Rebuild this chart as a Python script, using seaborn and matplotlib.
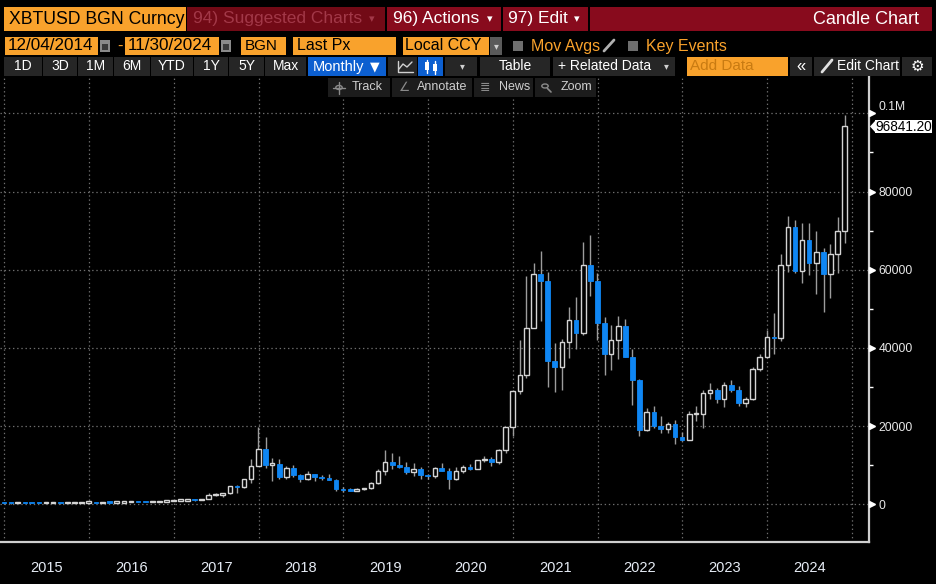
import matplotlib
matplotlib.use("Agg")
import numpy as np
import pandas as pd
import matplotlib.pyplot as plt
import matplotlib.transforms as mtransforms
from matplotlib.patches import Rectangle, Polygon, Circle
from matplotlib.lines import Line2D
import seaborn as sns

# monthly candles, plotted at month end (Dec 2014 .. Nov 2024)
months = pd.date_range("2014-12-31", periods=120, freq="ME")

open_px = [378,
    320, 217, 254, 244, 236, 230, 263, 284, 230, 236, 314, 377,
    430, 369, 437, 416, 448, 531, 673, 624, 575, 608, 700, 742,
    964, 970, 1190, 1080, 1350, 2300, 2480, 2875, 4700, 4340, 6440, 9900,
    14100, 10100, 10350, 6900, 9250, 7500, 6390, 7730, 7000, 6620, 6310, 4000,
    3690, 3440, 3820, 4100, 5350, 8570, 10800, 10090, 9600, 8300, 9150, 7550,
    7200, 9350, 8540, 6410, 8630, 9450, 9140, 11350, 11650, 10780, 13800, 19700,
    28990, 33100, 45200, 58800, 57000, 36700, 35000, 41500, 47100, 43800, 61300, 57000,
    46300, 38500, 42000, 45600, 37700, 31700, 18900, 23700, 20000, 19300, 20500, 17100,
    16500, 23100, 23200, 28400, 29300, 27000, 30500, 29200, 25900, 26900, 34500, 37800,
    42700, 42500, 61300, 71000, 59800, 67700, 61800, 64600, 59000, 63900, 70000]

high_px = [380,
    320, 265, 300, 262, 248, 268, 317, 285, 245, 335, 495, 465,
    460, 445, 440, 467, 550, 780, 705, 630, 625, 720, 755, 975,
    1150, 1215, 1290, 1380, 2800, 3000, 2920, 4750, 5000, 6470, 11500, 19700,
    17200, 11800, 11700, 9800, 10000, 7800, 8500, 7760, 7400, 7680, 6560, 4400,
    4100, 4200, 4150, 5650, 9100, 13850, 13200, 12350, 10950, 10500, 9520, 7750,
    9600, 10500, 9200, 9450, 10070, 10400, 11450, 12480, 12080, 14100, 19850, 29300,
    41950, 58350, 61780, 64900, 59500, 41300, 42300, 50500, 52900, 67000, 69000, 59100,
    47900, 45800, 48200, 47400, 39800, 32000, 24600, 25200, 22700, 21000, 21500, 18400,
    23950, 25250, 29200, 31000, 29850, 31400, 31800, 30200, 27500, 35200, 38400, 44700,
    49000, 64000, 73800, 72700, 72000, 72000, 70000, 65600, 66600, 73600, 99600]

low_px = [300,
    170, 212, 240, 215, 228, 220, 253, 198, 225, 235, 300, 350,
    360, 366, 400, 414, 438, 520, 605, 475, 570, 605, 690, 740,
    750, 940, 890, 1060, 1350, 2100, 1830, 2650, 2950, 4120, 5500, 9800,
    9200, 6000, 6600, 6450, 7050, 5750, 6100, 5880, 6100, 6200, 3500, 3150,
    3350, 3400, 3670, 4040, 5300, 7450, 9050, 9350, 7800, 7300, 6500, 6430,
    6850, 8500, 3850, 6150, 8110, 8900, 8970, 10950, 9880, 10400, 13200, 17600,
    28130, 32300, 45000, 47000, 30000, 28800, 29300, 37300, 39600, 43300, 53300, 42000,
    33000, 34300, 37200, 37600, 25400, 17600, 18800, 19600, 18200, 18200, 15500, 16300,
    16500, 21400, 19600, 27000, 25800, 24800, 28850, 25250, 24900, 26600, 34100, 37600,
    38500, 41900, 59300, 59200, 56700, 58600, 53800, 49300, 52800, 59100, 66800]

close_px = [320,
    217, 254, 244, 236, 230, 263, 284, 230, 236, 314, 377, 430,
    369, 437, 416, 448, 531, 673, 624, 575, 608, 700, 742, 964,
    970, 1190, 1080, 1350, 2300, 2480, 2875, 4700, 4340, 6440, 9900, 14100,
    10100, 10350, 6900, 9250, 7500, 6390, 7730, 7000, 6620, 6310, 4000, 3690,
    3440, 3820, 4100, 5350, 8570, 10800, 10090, 9600, 8300, 9150, 7550, 7200,
    9350, 8540, 6410, 8630, 9450, 9140, 11350, 11650, 10780, 13800, 19700, 28990,
    33100, 45200, 58800, 57000, 36700, 35000, 41500, 47100, 43800, 61300, 57000, 46300,
    38500, 42000, 45600, 37700, 31700, 18900, 23700, 20000, 19300, 20500, 17100, 16500,
    23100, 23200, 28400, 29300, 27000, 30500, 29200, 25900, 26900, 34500, 37800, 42700,
    42500, 61300, 71000, 59800, 67700, 61800, 64600, 59000, 63900, 70000, 96841.20]

y_ticks = [0, 20000, 40000, 60000, 80000, 100000]
y_labels = ["0", "20000", "40000", "60000", "80000", "0.1M"]
years = list(range(2015, 2025))
last_label = "96841.20"

df = pd.DataFrame({"date": months, "open": open_px, "high": high_px,
                   "low": low_px, "close": close_px})
df["up"] = df["close"] >= df["open"]
df["body_lo"] = df[["open", "close"]].min(axis=1)
df["body_h"] = (df["close"] - df["open"]).abs().clip(lower=350)

ORANGE = "#f9a22c"
RED = "#880b1d"
BLUE = "#0f86f3"
BTN = "#262626"

sns.set_theme(style="dark", rc={"figure.facecolor": "black", "axes.facecolor": "black",
                                "axes.grid": False, "savefig.facecolor": "black"})
plt.rcParams["font.family"] = ["Liberation Sans", "DejaVu Sans"]
plt.rcParams["lines.scale_dashes"] = False

W, H = 936, 584
fig = plt.figure(figsize=(W / 100, H / 100), dpi=100)
ax = fig.add_axes([0, 42 / H, 869 / W, 465 / H])
ax.set_xlim(pd.Timestamp("2014-12-14"), pd.Timestamp("2025-03-15"))
ax.set_ylim(-9640, 109300)

# grid
for yv in y_ticks:
    ax.axhline(yv, color="#6e6e6e", lw=0.9, ls=(0, (1, 2)), zorder=1)
for yr in range(2015, 2026):
    ax.axvline(pd.Timestamp(f"{yr}-01-01"), color="#6e6e6e", lw=0.9, ls=(0, (1, 2)), zorder=1)

# candles
ax.vlines(df["date"], df["low"], df["high"], color="#9c9c9c", lw=1, zorder=2)
up = df[df["up"]]
dn = df[~df["up"]]
ax.bar(up["date"], up["body_h"], bottom=up["body_lo"], width=20,
       facecolor="black", edgecolor="#d4d4d4", linewidth=1, zorder=3)
ax.bar(dn["date"], dn["body_h"], bottom=dn["body_lo"], width=20,
       facecolor=BLUE, edgecolor=BLUE, linewidth=0.6, zorder=3)

# axes styling
for s in ["top", "left"]:
    ax.spines[s].set_visible(False)
for s in ["right", "bottom"]:
    ax.spines[s].set_color("#cfcfcf")
    ax.spines[s].set_linewidth(1.6)

ax.yaxis.tick_right()
ax.set_yticks(y_ticks)
ax.set_yticklabels(y_labels)
ax.set_yticks(range(10000, 100000, 20000), minor=True)
ax.tick_params(axis="y", which="major", length=0, pad=7, labelsize=8.7, labelcolor="#e8e8e8")
ax.tick_params(axis="y", which="minor", length=3, width=1, color="white", direction="out")
ax.get_yticklabels()[-1].set_va("bottom")
trans = mtransforms.blended_transform_factory(ax.transAxes, ax.transData)
ax.plot([1.004] * len(y_ticks), y_ticks, marker=">", ms=5, color="white", ls="none",
        transform=trans, clip_on=False, zorder=5)

ax.set_xticks([pd.Timestamp(f"{y}-01-01") for y in range(2016, 2026)])
ax.set_xticks([pd.Timestamp(f"{y}-{m:02d}-01") for y in years for m in (4, 7, 10)]
              + [pd.Timestamp("2015-01-01")], minor=True)
ax.tick_params(axis="x", which="major", length=27, width=1.2, color="#8c8c8c",
               direction="out", labelbottom=False)
ax.tick_params(axis="x", which="minor", length=3, width=1, color="#d0d0d0",
               direction="out", labelbottom=False)
xtrans = mtransforms.blended_transform_factory(ax.transData, ax.transAxes)
for yr in years:
    ax.text(pd.Timestamp(f"{yr}-07-02"), -0.056, str(yr), transform=xtrans,
            ha="center", va="center", fontsize=10.5, color="#e6ecf5",
            family=["Liberation Sans Narrow", "Liberation Sans", "DejaVu Sans"])


# ---- header widgets, in pixel coordinates ----
def box(x0, y0, x1, y1, color, z=6):
    fig.add_artist(Rectangle((x0 / W, 1 - y1 / H), (x1 - x0) / W, (y1 - y0) / H,
                             transform=fig.transFigure, facecolor=color,
                             edgecolor="none", zorder=z))


def txt(x, y, s, color="white", size=10, ha="left", **kw):
    fig.text(x / W, 1 - y / H, s, color=color, fontsize=size, ha=ha, va="center",
             zorder=8, **kw)


def line(xs, ys, color="white", lw=1):
    fig.add_artist(Line2D([x / W for x in xs], [1 - y / H for y in ys],
                          transform=fig.transFigure, color=color, lw=lw, zorder=8))


def calendar(x0):
    box(x0, 40, x0 + 10, 52, "#8a8a8a", z=7)
    box(x0 + 2, 44, x0 + 8, 50, "#3a3a3a", z=7)


# row 1
box(4, 7, 186, 31, ORANGE)
txt(9, 19, "XBTUSD BGN Curncy", "black", 12.7)
box(187, 7, 385, 31, "#720a16")
txt(193, 19, "94) Suggested Charts", "#a23848", 12.5)
txt(372, 19.5, "▾", "#a23848", 8, ha="center", family="DejaVu Sans")
box(387, 7, 501, 31, RED)
txt(393, 19, "96) Actions", "white", 12.5)
txt(490, 19.5, "▾", "white", 8, ha="center", family="DejaVu Sans")
box(503, 7, 588, 31, RED)
txt(508, 19, "97) Edit", "white", 12.5)
txt(577, 19.5, "▾", "white", 8, ha="center", family="DejaVu Sans")
box(590, 7, 932, 31, RED)
txt(919, 19, "Candle Chart", "white", 13, ha="right")

# row 2
box(5, 37, 98, 55, ORANGE)
txt(8, 46, "12/04/2014", "black", 12.3)
calendar(100)
txt(117, 46, "-", ORANGE, 12)
box(125, 37, 219, 55, ORANGE)
txt(128, 46, "11/30/2024", "black", 12.3)
calendar(221)
box(241, 37, 286, 55, ORANGE)
txt(245, 46, "BGN", "black", 11)
box(293, 37, 396, 55, ORANGE)
txt(297, 46, "Last Px", "black", 11.5)
box(403, 37, 489, 55, ORANGE)
txt(405, 46, "Local CCY", "black", 11.5)
box(490, 37, 502, 55, "#5a5a5a")
txt(496, 46, "▾", "#d0d0d0", 7, ha="center", family="DejaVu Sans")
box(513, 41, 523, 51, "#6e6e6e")
txt(531, 46, "Mov Avgs", ORANGE, 11.5)
line([614, 604], [40, 51], "#b0b0b0", 2)
box(628, 41, 638, 51, "#6e6e6e")
txt(646, 46, "Key Events", ORANGE, 11.5)

# row 3
for lab, x0, x1 in [("1D", 4, 42), ("3D", 43, 77), ("1M", 78, 113), ("6M", 114, 150),
                    ("YTD", 151, 193), ("1Y", 194, 228), ("5Y", 229, 264), ("Max", 265, 306)]:
    box(x0, 57, x1, 76, BTN)
    txt((x0 + x1) / 2, 66.5, lab, "white", 10, ha="center")
box(308, 57, 386, 76, "#0c5fd0")
txt(313, 66.5, "Monthly", "white", 10.5)
txt(375, 66.5, "▼", "white", 9, ha="center", family="DejaVu Sans")
box(388, 57, 417, 76, BTN)
line([398, 398, 413], [61, 72, 72], "#d0d0d0", 1)
line([399, 403, 407, 412], [69, 64, 67, 62], "#d0d0d0", 1)
box(418, 57, 443, 76, "#0c5fd0")
line([427, 427], [60, 73], "white", 1)
box(425, 62, 429, 70, "white", z=8)
line([435, 435], [61, 74], "white", 1)
box(433, 64, 437, 71, "white", z=8)
box(445, 57, 477, 76, BTN)
txt(462, 66.5, "▾", "#d0d0d0", 7, ha="center", family="DejaVu Sans")
box(480, 57, 550, 76, BTN)
txt(515, 66.5, "Table", "white", 10, ha="center")
box(553, 57, 675, 76, BTN)
txt(558, 66.5, "+ Related Data", "white", 10)
txt(666, 66.5, "▾", "#d0d0d0", 7, ha="center", family="DejaVu Sans")
box(687, 57, 788, 76, ORANGE)
txt(690, 66.5, "Add Data", "#c97b12", 11)
box(790, 57, 812, 76, BTN)
txt(801, 66, "«", "white", 12, ha="center")
box(814, 57, 900, 76, BTN)
line([832, 822], [60, 72], "#e0e0e0", 2)
txt(837, 66.5, "Edit Chart", "white", 10)
box(902, 57, 932, 76, BTN)
txt(917, 66.5, "⚙", "white", 11, ha="center", family="DejaVu Sans")

# row 4
R4 = "#1c1c1c"
ICON = "#8a8a8a"
box(328, 78, 390, 97, R4)
fig.add_artist(Circle((339 / W, 1 - 87.5 / H), 3.2 / W, transform=fig.transFigure,
                      facecolor="none", edgecolor=ICON, lw=1, zorder=8))
line([333, 345], [87.5, 87.5], ICON, 1)
line([339, 339], [81.5, 93.5], ICON, 1)
txt(352, 87.5, "Track", "#cfcfcf", 9)
box(392, 78, 472, 97, R4)
txt(405, 87.5, "∠", ICON, 9, ha="center", family="DejaVu Sans")
txt(417, 87.5, "Annotate", "#cfcfcf", 9)
box(474, 78, 533, 97, R4)
txt(485, 87.5, "≣", ICON, 9, ha="center", family="DejaVu Sans")
txt(499, 87.5, "News", "#cfcfcf", 9)
box(535, 78, 596, 97, R4)
fig.add_artist(Circle((545 / W, 1 - 86 / H), 3.2 / W, transform=fig.transFigure,
                      facecolor="none", edgecolor=ICON, lw=1, zorder=8))
line([547.5, 551], [88.5, 92], ICON, 1.2)
txt(561, 87.5, "Zoom", "#cfcfcf", 9)

# last price tag
box(875, 120, 932, 133, "white", z=9)
fig.add_artist(Polygon([(870 / W, 1 - 126.5 / H), (875 / W, 1 - 121 / H), (875 / W, 1 - 132 / H)],
                       closed=True, transform=fig.transFigure, facecolor="white",
                       edgecolor="none", zorder=9))
fig.text(903.5 / W, 1 - 126.5 / H, last_label, color="black", fontsize=9.8, ha="center",
         va="center", zorder=10)

fig.savefig("out.png", dpi=100, facecolor="black")
